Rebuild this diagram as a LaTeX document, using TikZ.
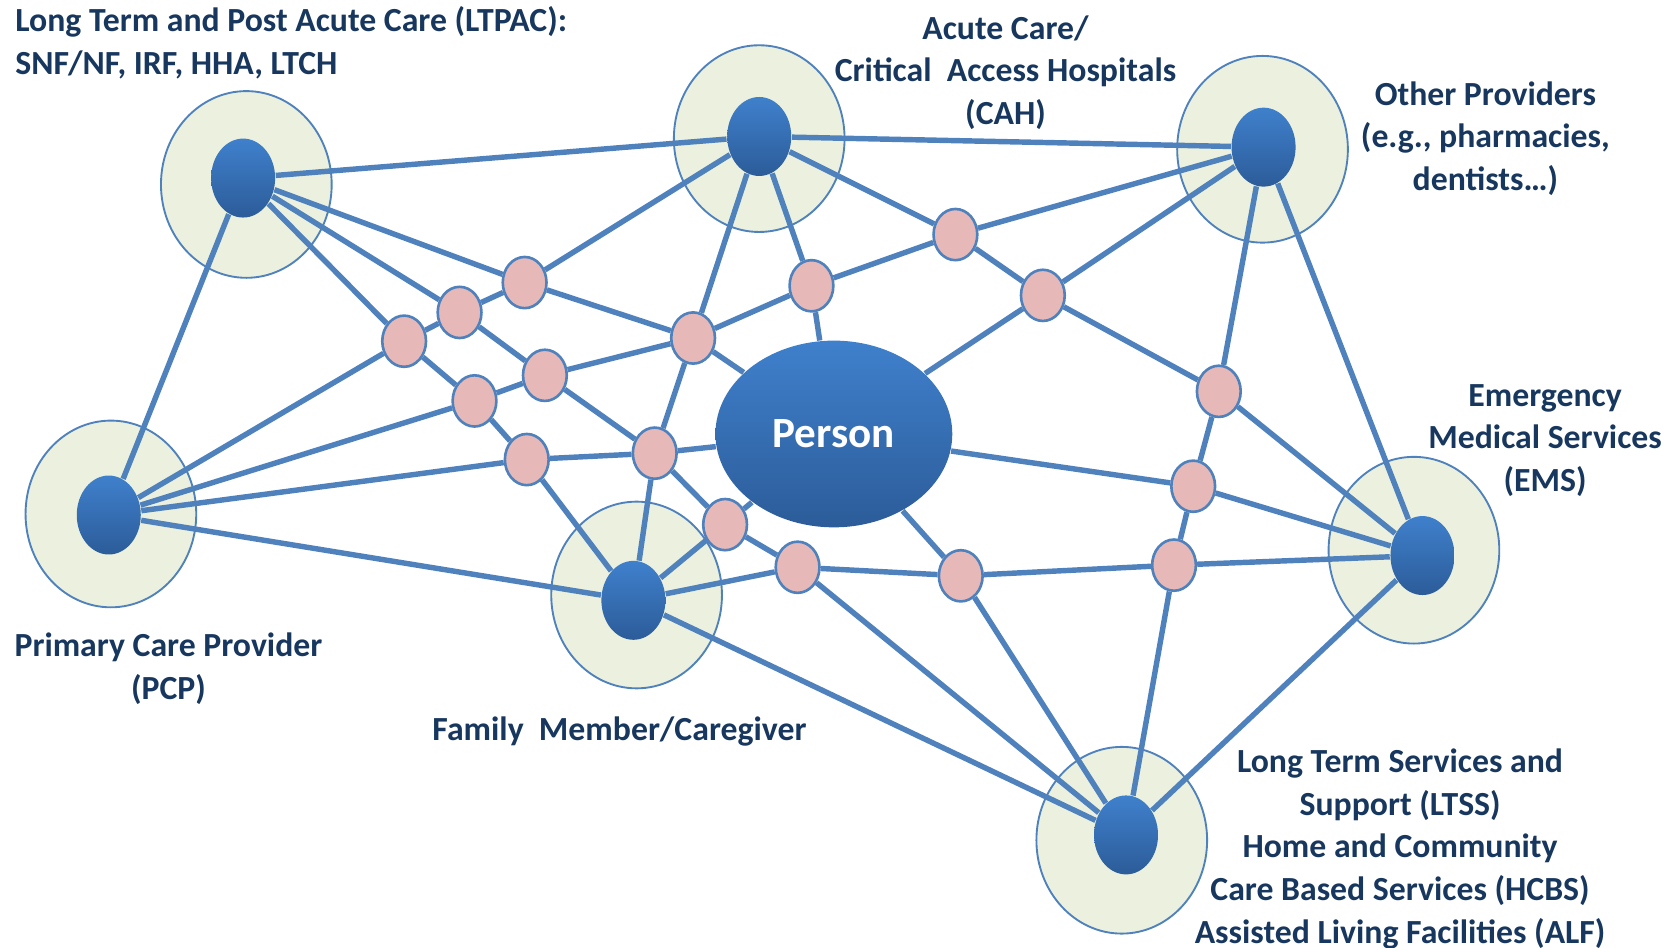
\documentclass[tikz,border=0pt]{standalone}
\usepackage{fontspec}
\setmainfont{Carlito}
\usetikzlibrary{shapes.geometric}

\definecolor{linkblue}{HTML}{4F81BD}
\definecolor{dottop}{HTML}{3F80CC}
\definecolor{dotbot}{HTML}{2C5C99}
\definecolor{halofill}{HTML}{EBF1DE}
\definecolor{pinkfill}{HTML}{E6B9B8}
\definecolor{labelblue}{HTML}{17375E}

\pgfdeclarelayer{halo}
\pgfdeclarelayer{wire}
\pgfsetlayers{halo,wire,main}

\begin{document}
\begin{tikzpicture}[x=0.01cm, y=-0.01cm,
  hub/.style={ellipse, inner sep=0pt, minimum width=0.6cm, minimum height=0.74cm,
    top color=dottop, bottom color=dotbot},
  halo/.style={ellipse, inner sep=0pt, minimum width=1.6cm, minimum height=1.75cm,
    fill=halofill, draw=linkblue, line width=0.5pt},
  junc/.style={ellipse, inner sep=0pt, minimum width=0.41cm, minimum height=0.48cm,
    fill=pinkfill, draw=linkblue, line width=0.7pt},
  link/.style={linkblue, line width=1.45pt},
  lbl/.style={text=labelblue, font=\bfseries\fontsize{9}{11.4}\selectfont, align=center}]

\useasboundingbox (0,0) rectangle (1568,889);

% Care settings
\node[hub] (ltpac) at (228,167) {};
\node[hub] (cah) at (712,128) {};
\node[hub] (other) at (1185,138) {};
\node[hub] (pcp) at (102,483) {};
\node[hub] (fam) at (594,563) {};
\node[hub] (ems) at (1334,521) {};
\node[hub] (ltss) at (1056,783) {};

% Person in the middle
\node[ellipse, inner sep=0pt, minimum width=2.22cm, minimum height=1.75cm,
  top color=dottop, bottom color=dotbot, text=white,
  font=\bfseries\fontsize{11.5}{14}\selectfont] (person) at (782,407) {Person};

% Halos round the care settings
\begin{pgfonlayer}{halo}
\node[halo] (ltpac-h) at (231,173) {};
\node[halo] (cah-h) at (712,130) {};
\node[halo] (other-h) at (1184,140) {};
\node[halo] (pcp-h) at (104,482) {};
\node[halo] (fam-h) at (597,558) {};
\node[halo] (ems-h) at (1326,516) {};
\node[halo] (ltss-h) at (1052,788) {};
\end{pgfonlayer}

% Exchange points
\foreach \n/\x/\y in {1/492/265, 2/431/293, 3/379/320, 4/511/352, 5/445/376,
  6/650/317, 7/761/268, 8/896/220, 9/978/277, 10/494/431, 11/614/425,
  12/680/492, 13/748/532, 14/901/540, 15/1143/367, 16/1119/456, 17/1101/530}
  \node[junc] (x\n) at (\x,\y) {};

% Connections
\begin{pgfonlayer}{wire}
\foreach \a/\b in {ltpac/cah, cah/other, ltpac/pcp, pcp/fam, fam/ltss, other/ems, ems/ltss,
  ltpac/x1, ltpac/x2, ltpac/x3, cah/x1, cah/x6, cah/x7, cah/x8,
  other/x8, other/x9, other/x15, pcp/x3, pcp/x5, pcp/x10,
  fam/x10, fam/x11, fam/x12, fam/x13,
  person/x6, person/x7, person/x9, person/x11, person/x12, person/x14, person/x16,
  ems/x15, ems/x16, ems/x17, ltss/x13, ltss/x14, ltss/x17,
  x1/x2, x2/x3, x1/x6, x2/x4, x3/x5, x5/x4, x4/x6, x4/x11, x5/x10, x10/x11,
  x6/x7, x6/x11, x7/x8, x8/x9, x9/x15, x11/x12, x12/x13, x13/x14, x14/x17,
  x15/x16, x16/x17}
  \draw[link] (\a) -- (\b);
\end{pgfonlayer}

% Labels
\node[lbl, align=left, anchor=west] (ltpac-t) at (2,40)
  {Long Term and Post Acute Care (LTPAC):\\SNF/NF, IRF, HHA, LTCH};
\node[lbl] (cah-t) at (943,68) {Acute Care/\\Critical\ \ Access Hospitals\\(CAH)};
\node[lbl] (other-t) at (1393,130) {Other Providers\\(e.g., pharmacies,\\dentists…)};
\node[lbl] (ems-t) at (1449,413) {Emergency\\Medical Services\\(EMS)};
\node[lbl] (pcp-t) at (158,627) {Primary Care Provider\\(PCP)};
\node[lbl] (fam-t) at (581,686) {Family\ \ Member/Caregiver};
\node[lbl] (ltss-t) at (1313,796) {Long Term Services and\\Support (LTSS)\\Home and Community\\Care Based Services (HCBS)\\Assisted Living Facilities (ALF)};

\end{tikzpicture}
\end{document}
